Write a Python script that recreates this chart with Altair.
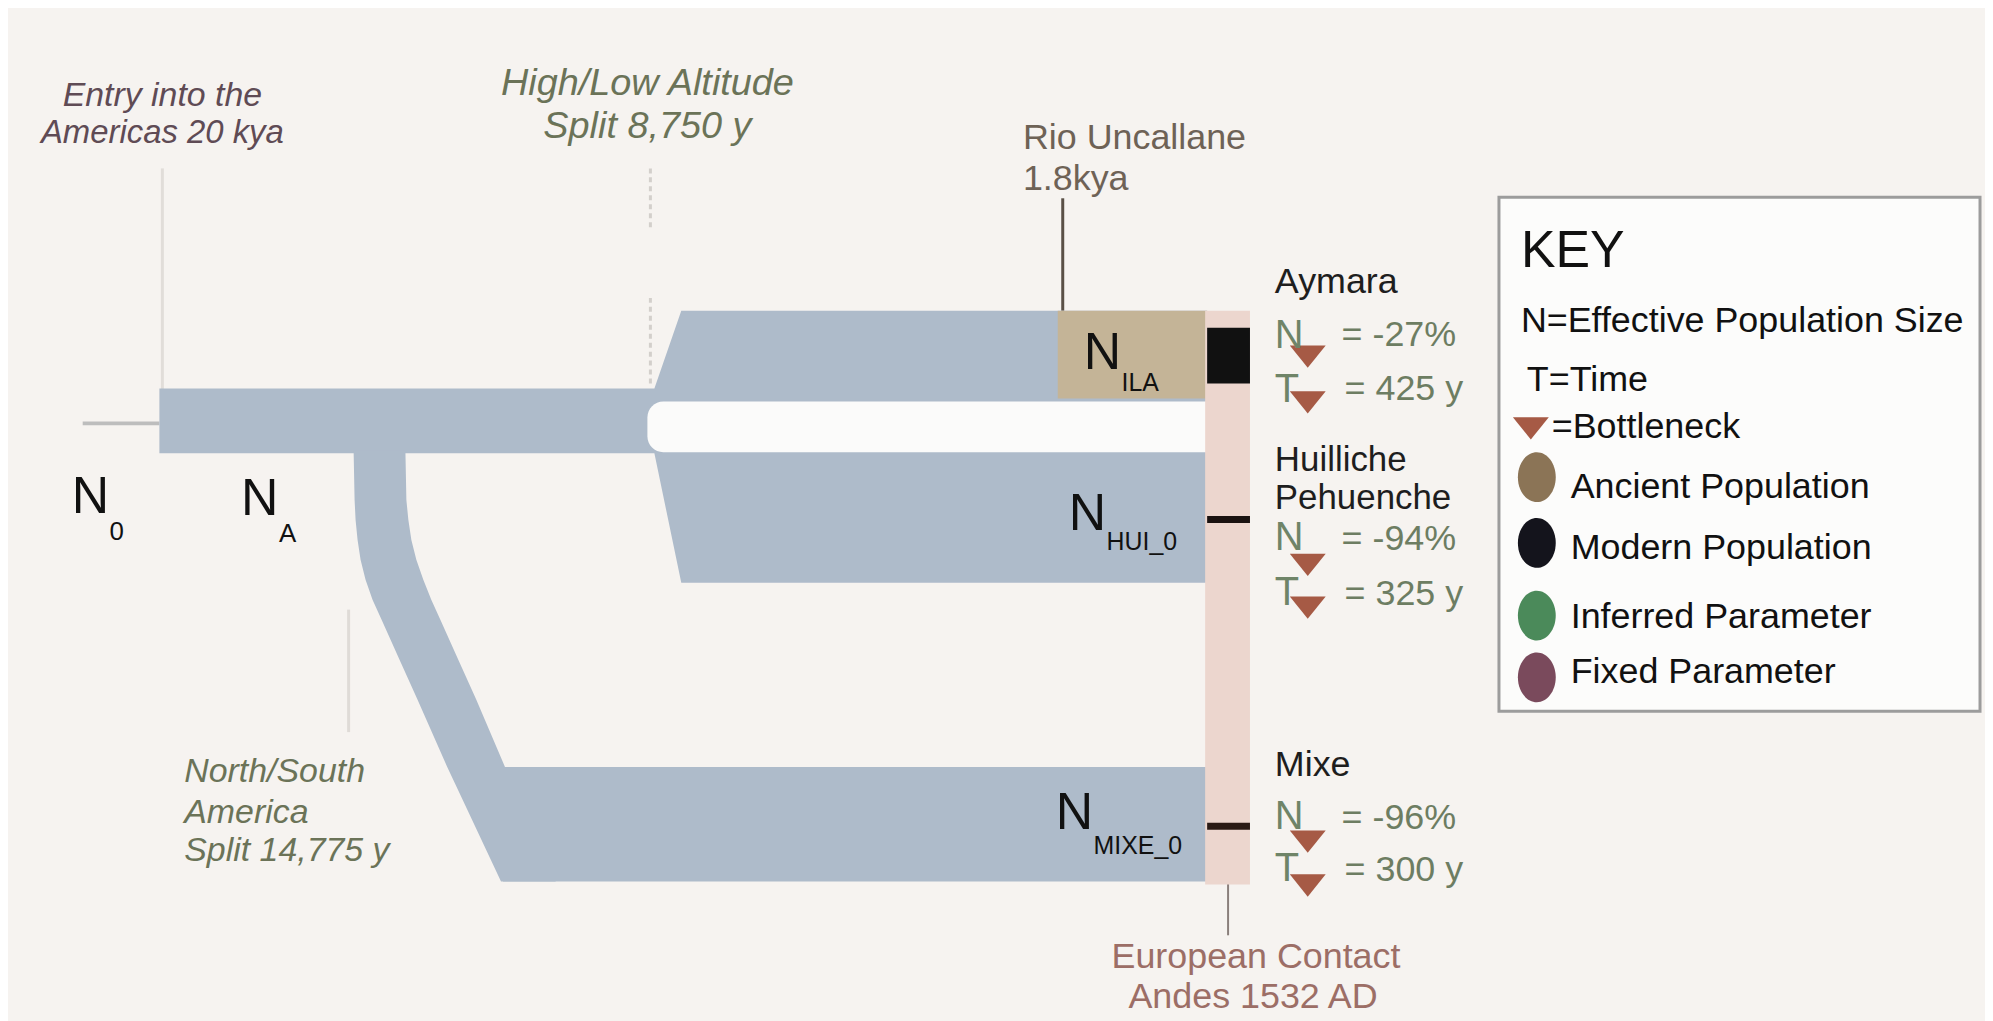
import altair as alt
import pandas as pd

# ---------------- canvas (page pixel coordinates) ----------------
W, H = 1985, 1013
OFF = 8

BG = "#f6f3f0"
BLUE = "#aebbca"
TAN = "#c4b497"
PINK = "#ecd6ce"
GAP = "#fbfbfa"
BROWN_TRI = "#a65a45"

FONT = "Liberation Sans"

# ---------------- shapes (diagram data) ----------------
# ancestral trunk + high/low altitude split (x, top, bottom)
TRUNK_X = [160, 657, 684, 1212]
TRUNK_TOP = [388, 388, 310, 310]
TRUNK_BOT = [453, 453, 583, 583]

# north/south branch (y, left edge, right edge)
BRANCH_Y = [450, 500, 520, 540, 560, 580, 600, 620, 660, 700, 768, 800, 883]
BRANCH_L = [355, 356, 357, 359, 362, 367, 374, 383, 401, 419, 449, 464, 503]
BRANCH_R = [407, 408, 410, 413, 418, 425, 433, 442, 460, 478, 507, 521, 558]

# rectangles: name, x, x2, y, y2, color
RECT_NAME = ["mixe", "tan", "pink", "ila_modern", "hui_modern", "mixe_modern"]
RECT_X = [505, 1062, 1210, 1212, 1212, 1212]
RECT_X2 = [1212, 1212, 1255, 1255, 1255, 1255]
RECT_Y = [768, 310, 310, 327, 516, 824]
RECT_Y2 = [883, 398, 886, 383, 523, 831]
RECT_COLOR = [BLUE, TAN, PINK, "#111111", "#1a1210", "#2a1a14"]

# gap between the two altitude branches
GAP_X, GAP_X2, GAP_Y, GAP_Y2 = [650], [1240], [401], [452]

# key box
KEY_X, KEY_X2, KEY_Y, KEY_Y2 = [1505], [1988], [196], [712]

# rules: x, x2, y, y2, color, width
RULE_X = [83, 163, 350, 1067, 1233]
RULE_X2 = [160, 163, 350, 1067, 1233]
RULE_Y = [423, 167, 610, 197, 877]
RULE_Y2 = [423, 390, 733, 310, 937]
RULE_COLOR = ["#bdbdbd", "#e1ddd9", "#dfdbd7", "#5a5046", "#8a7f7c"]
RULE_W = [4, 3, 3, 3, 2]

DASH_X = [653, 653]
DASH_Y = [167, 297]
DASH_Y2 = [227, 383]

# bottleneck triangles
TRI_X = [1313, 1313, 1313, 1313, 1313, 1313, 1537]
TRI_Y = [356, 402, 565, 608, 843, 887, 428]

# key ellipses
ELL_Y = [477, 543, 616, 678]
ELL_X = [1543, 1543, 1543, 1543]
ELL_COLOR = ["#8b7456", "#14141c", "#4b8a5a", "#7a4a5c"]

# ---------------- texts ----------------
# italic annotations, centred
ANN_TEXT = ["Entry into the", "Americas 20 kya", "High/Low Altitude", "Split 8,750 y"]
ANN_X = [163, 163, 650, 650]
ANN_Y = [104, 141, 93, 136]
ANN_COLOR = ["#5f4b55", "#5f4b55", "#6b7358", "#6b7358"]
ANN_SIZE = [34, 33, 38, 38]

# italic annotation, left aligned
NS_TEXT = ["North/South", "America", "Split 14,775 y"]
NS_X = [185, 185, 185]
NS_Y = [783, 824, 862]

# population labels (left aligned)
LAB_TEXT = ["N", "0", "N", "A", "N", "ILA", "N", "HUI_0", "N", "MIXE_0"]
LAB_X = [72, 110, 242, 280, 1088, 1126, 1073, 1111, 1060, 1098]
LAB_Y = [513, 540, 515, 542, 368, 390, 530, 550, 830, 855]
LAB_SIZE = [52, 26, 52, 26, 52, 25, 52, 25, 52, 25]

# other left aligned texts
TXT_TEXT = ["Rio Uncallane", "1.8kya",
            "Aymara", "N", "= -27%", "T", "= 425 y",
            "Huilliche", "Pehuenche", "N", "= -94%", "T", "= 325 y",
            "Mixe", "N", "= -96%", "T", "= 300 y",
            "KEY", "N=Effective Population Size", "T=Time", "=Bottleneck",
            "Ancient Population", "Modern Population", "Inferred Parameter", "Fixed Parameter"]
TXT_X = [1027, 1027,
         1280, 1280, 1347, 1280, 1350,
         1280, 1280, 1280, 1347, 1280, 1350,
         1280, 1280, 1347, 1280, 1350,
         1527, 1527, 1533, 1558,
         1577, 1577, 1577, 1577]
TXT_Y = [148, 189,
         292, 347, 345, 402, 400,
         471, 509, 550, 550, 605, 605,
         777, 830, 830, 882, 882,
         266, 331, 390, 438,
         498, 559, 628, 684]
TXT_SIZE = [36, 36,
            36, 40, 36, 40, 36,
            35, 35, 40, 36, 40, 36,
            36, 40, 36, 40, 36,
            52, 36, 36, 36,
            36, 36, 36, 36]
TXT_COLOR = ["#6e6256", "#6e6256",
             "#1e1e1e", "#6f8468", "#6d7d62", "#6f8468", "#6d7d62",
             "#1e1e1e", "#1e1e1e", "#6f8468", "#6d7d62", "#6f8468", "#6d7d62",
             "#1e1e1e", "#6f8468", "#6d7d62", "#6f8468", "#6d7d62",
             "#111111", "#111111", "#111111", "#111111",
             "#111111", "#111111", "#111111", "#111111"]

# centred text
EU_TEXT = ["European Contact", "Andes 1532 AD"]
EU_X = [1261, 1258]
EU_Y = [970, 1010]

# ---------------- scales / helpers ----------------
xs = alt.Scale(domain=[OFF, OFF + W], nice=False, zero=False)
ys = alt.Scale(domain=[OFF, OFF + H], nice=False, zero=False, reverse=True)


def X(f):
    return alt.X(f, type="quantitative", scale=xs, axis=None)


def Y(f):
    return alt.Y(f, type="quantitative", scale=ys, axis=None)


def X2(f):
    return alt.X2(f)


def Y2(f):
    return alt.Y2(f)


# ---------------- layers ----------------
guides = alt.Chart(pd.DataFrame({"x": RULE_X, "x2": RULE_X2, "y": RULE_Y, "y2": RULE_Y2,
                                 "c": RULE_COLOR, "w": RULE_W})).mark_rule().encode(
    x=X("x"), x2=X2("x2"), y=Y("y"), y2=Y2("y2"),
    color=alt.Color("c:N", scale=None), strokeWidth=alt.StrokeWidth("w:Q", scale=None))

dashed = alt.Chart(pd.DataFrame({"x": DASH_X, "y": DASH_Y, "y2": DASH_Y2})).mark_rule(
    color="#d3cfcb", strokeWidth=3, strokeDash=[5, 4]).encode(x=X("x"), y=Y("y"), y2=Y2("y2"))

trunk = alt.Chart(pd.DataFrame({"x": TRUNK_X, "t": TRUNK_TOP, "b": TRUNK_BOT})).mark_area(
    color=BLUE, opacity=1, orient="vertical").encode(
    x=alt.X("x", type="quantitative", scale=xs, axis=None),
    y=alt.Y("t", type="quantitative", scale=ys, axis=None, stack=None),
    y2=alt.Y2("b"))

branch = alt.Chart(pd.DataFrame({"y": BRANCH_Y, "l": BRANCH_L, "r": BRANCH_R})).mark_area(
    color=BLUE, opacity=1, orient="horizontal", interpolate="linear").encode(
    y=alt.Y("y", type="quantitative", scale=ys, axis=None),
    x=alt.X("l", type="quantitative", scale=xs, axis=None, stack=None),
    x2=alt.X2("r"))

gap = alt.Chart(pd.DataFrame({"x": GAP_X, "x2": GAP_X2, "y": GAP_Y, "y2": GAP_Y2})).mark_rect(
    color=GAP, cornerRadius=16).encode(x=X("x"), x2=X2("x2"), y=Y("y"), y2=Y2("y2"))

rects = alt.Chart(pd.DataFrame({"n": RECT_NAME, "x": RECT_X, "x2": RECT_X2, "y": RECT_Y,
                                "y2": RECT_Y2, "c": RECT_COLOR})).mark_rect().encode(
    x=X("x"), x2=X2("x2"), y=Y("y"), y2=Y2("y2"), color=alt.Color("c:N", scale=None))

keybox = alt.Chart(pd.DataFrame({"x": KEY_X, "x2": KEY_X2, "y": KEY_Y, "y2": KEY_Y2})).mark_rect(
    fill="#fcfcfb", stroke="#9c9c9c", strokeWidth=3).encode(
    x=X("x"), x2=X2("x2"), y=Y("y"), y2=Y2("y2"))

TRI_PATH = "M-1,-0.62L1,-0.62L0,0.62Z"
tris = alt.Chart(pd.DataFrame({"x": TRI_X, "y": TRI_Y})).mark_point(
    shape=TRI_PATH, filled=True, color=BROWN_TRI, opacity=1, size=1300, strokeWidth=0).encode(
    x=X("x"), y=Y("y"))

ELL_PATH = "M0,-1A0.76,1,0,1,1,0,1A0.76,1,0,1,1,0,-1Z"
ells = alt.Chart(pd.DataFrame({"x": ELL_X, "y": ELL_Y, "c": ELL_COLOR})).mark_point(
    shape=ELL_PATH, filled=True, opacity=1, size=2500, strokeWidth=0).encode(
    x=X("x"), y=Y("y"), color=alt.Color("c:N", scale=None))

ann = alt.Chart(pd.DataFrame({"t": ANN_TEXT, "x": ANN_X, "y": ANN_Y, "c": ANN_COLOR, "s": ANN_SIZE})).mark_text(
    font=FONT, fontStyle="italic", align="center", baseline="alphabetic").encode(
    x=X("x"), y=Y("y"), text="t:N", color=alt.Color("c:N", scale=None), size=alt.Size("s:Q", scale=None))

ns = alt.Chart(pd.DataFrame({"t": NS_TEXT, "x": NS_X, "y": NS_Y})).mark_text(
    font=FONT, fontStyle="italic", align="left", baseline="alphabetic", fontSize=34, color="#6b7358").encode(
    x=X("x"), y=Y("y"), text="t:N")

labs = alt.Chart(pd.DataFrame({"t": LAB_TEXT, "x": LAB_X, "y": LAB_Y, "s": LAB_SIZE})).mark_text(
    font=FONT, align="left", baseline="alphabetic", color="#111111").encode(
    x=X("x"), y=Y("y"), text="t:N", size=alt.Size("s:Q", scale=None))

txts = alt.Chart(pd.DataFrame({"t": TXT_TEXT, "x": TXT_X, "y": TXT_Y, "s": TXT_SIZE, "c": TXT_COLOR})).mark_text(
    font=FONT, align="left", baseline="alphabetic").encode(
    x=X("x"), y=Y("y"), text="t:N", size=alt.Size("s:Q", scale=None), color=alt.Color("c:N", scale=None))

eu = alt.Chart(pd.DataFrame({"t": EU_TEXT, "x": EU_X, "y": EU_Y})).mark_text(
    font=FONT, align="center", baseline="alphabetic", fontSize=36, color="#9c6e66").encode(
    x=X("x"), y=Y("y"), text="t:N")

chart = alt.layer(
    guides, dashed, trunk, branch, gap, rects, keybox, tris, ells, ann, ns, labs, txts, eu
).properties(width=W, height=H, padding=0, autosize="none", background=BG).configure_view(stroke=None)

chart.save("out.html", embed_options={"renderer": "svg", "actions": False})
